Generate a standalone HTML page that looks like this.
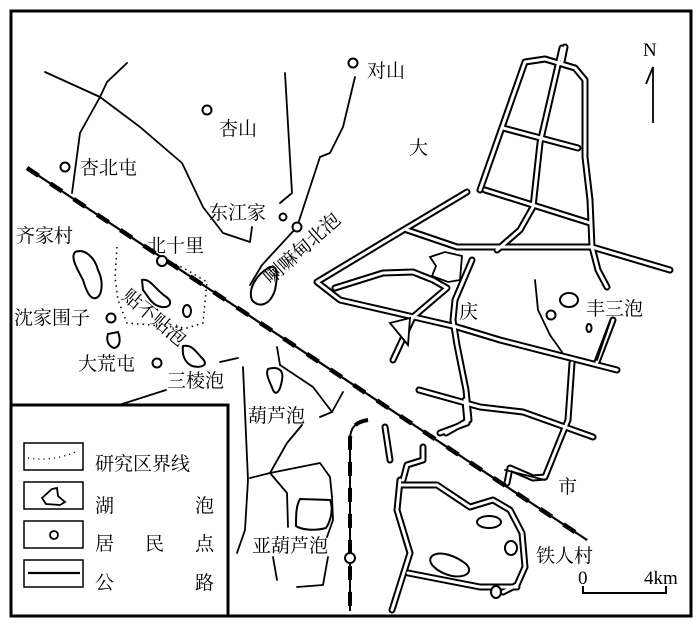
<!DOCTYPE html>
<html><head><meta charset="utf-8"><style>
html,body{margin:0;padding:0;background:#fff;}
svg{display:block;}
text{font-family:"Liberation Serif","Noto Serif CJK SC","Noto Sans CJK SC",serif;font-size:19px;fill:#000;}
.r1 path{fill:none;stroke:#000;stroke-width:7;stroke-linejoin:round;stroke-linecap:round;}
.r2 path{fill:none;stroke:#fff;stroke-width:3;stroke-linejoin:round;stroke-linecap:round;}
.s{fill:none;stroke:#000;stroke-width:1.8;stroke-linejoin:round;stroke-linecap:round;}
.lk{fill:#fff;stroke:#000;stroke-width:2;}
</style></head><body>
<svg width="700" height="628" viewBox="0 0 700 628" xmlns="http://www.w3.org/2000/svg">
<rect x="0" y="0" width="700" height="628" fill="#fff"/>
<rect x="11" y="11" width="680" height="605" fill="none" stroke="#000" stroke-width="3"/>

<path class="s" d="M45,72 L100,97 L140,127 L182,163 L203,207 L223,233 L250,242 L252,227"/>
<path class="s" d="M127,63 L107,82 L100,97 L80,133 L72,193"/>
<path class="s" d="M285,73 L292,193 L280,203"/>
<path class="s" d="M355,77 L343,127 L330,153 L320,157 L297,227 L262,265 L250,285"/>

<g class="r1">
<path d="M565,47 L562,62"/><path d="M480,190 L525,62 L545,59 L575,68 L585,80 L585,157 L590,200 L592,247 L598,270 L607,287"/><path d="M562,48 L540,143 L533,207 L520,230 L497,250"/><path d="M503,128 L578,148"/><path d="M485,190 L590,223"/><path d="M467,192 L400,232 L317,282 L340,300 L457,327 L500,340 L617,370"/><path d="M407,230 L457,247 L592,247 L670,270"/><path d="M335,288 L383,273 L413,272 L433,280 L447,288 L413,317 L393,360"/><path d="M472,260 L455,300 L453,320 L457,345 L466,390 L469,420 L446,433"/><path d="M419,390 L480,407 L523,412 L593,437"/><path d="M572,363 L568,420 L545,477 L533,478 L510,468 L507,483"/><path d="M597,362 L613,320"/><path d="M423,447 L423,460 L407,465 L403,480"/><path d="M440,433 L467,423 L465,400"/><path d="M402,485 L437,485 L470,507 L493,500 L510,510 L522,533 L525,567 L517,585 L503,592"/><path d="M400,480 L397,510 L410,553 L392,610"/><path d="M408,573 L480,587 L517,587"/><path d="M385,427 L390,460"/>
</g>
<g class="r2">
<path d="M565,47 L562,62"/><path d="M480,190 L525,62 L545,59 L575,68 L585,80 L585,157 L590,200 L592,247 L598,270 L607,287"/><path d="M562,48 L540,143 L533,207 L520,230 L497,250"/><path d="M503,128 L578,148"/><path d="M485,190 L590,223"/><path d="M467,192 L400,232 L317,282 L340,300 L457,327 L500,340 L617,370"/><path d="M407,230 L457,247 L592,247 L670,270"/><path d="M335,288 L383,273 L413,272 L433,280 L447,288 L413,317 L393,360"/><path d="M472,260 L455,300 L453,320 L457,345 L466,390 L469,420 L446,433"/><path d="M419,390 L480,407 L523,412 L593,437"/><path d="M572,363 L568,420 L545,477 L533,478 L510,468 L507,483"/><path d="M597,362 L613,320"/><path d="M423,447 L423,460 L407,465 L403,480"/><path d="M440,433 L467,423 L465,400"/><path d="M402,485 L437,485 L470,507 L493,500 L510,510 L522,533 L525,567 L517,585 L503,592"/><path d="M400,480 L397,510 L410,553 L392,610"/><path d="M408,573 L480,587 L517,587"/><path d="M385,427 L390,460"/>
</g>
<path d="M430,257 L445,252 L462,256 L460,280 L448,282 L432,276 L436,266 Z" fill="#fff" stroke="#000" stroke-width="1.8"/>
<path d="M390,323 L410,318 L408,345 Z" fill="#fff" stroke="#000" stroke-width="1.8"/>
<path d="M505,470 L545,480" class="s"/>

<path class="s" d="M535,280 L538,310 L550,335 L562,352"/>
<path class="s" d="M610,322 L597,360"/>

<path class="s" d="M243,367 L248,480 L245,530 L237,553"/>
<path class="s" d="M277,347 L280,365 L313,387 L332,412 L320,417"/>
<path class="s" d="M343,392 L332,412"/>
<path class="s" d="M302,425 L287,443 L270,473 L250,478"/>
<path class="s" d="M270,473 L320,463 L330,477 L332,497 L333,520 L327,537"/>
<path class="s" d="M270,473 L287,493 L288,527"/>
<path class="s" d="M273,557 L277,580"/><path class="s" d="M297,587 L323,585 L328,557"/>
<path class="s" d="M119,405 L166,390"/><path class="s" d="M220,362 L238,358"/>

<path class="lk" d="M75,252 C85,248 95,258 98,270 C104,282 102,296 96,298 C90,300 86,290 83,280 C78,270 70,258 75,252 Z"/>
<path class="lk" d="M142,280 C150,278 156,290 165,296 C174,302 170,308 162,307 C152,306 148,296 143,290 Z"/>
<ellipse class="lk" cx="187" cy="311" rx="4" ry="6"/>
<path class="lk" d="M108,334 L118,332 C121,340 120,347 114,348 C108,346 106,340 108,334 Z"/>
<path class="lk" d="M183,346 C192,344 196,352 202,358 C210,366 200,368 192,366 C184,362 182,354 183,346 Z"/>
<path class="lk" d="M270,267 C278,265 278,275 275,290 C270,306 258,308 252,300 C248,290 255,275 270,267 Z"/>
<path class="lk" d="M268,369 C278,366 284,370 282,380 C280,392 276,396 273,390 C270,382 265,374 268,369 Z"/>
<path class="lk" d="M300,499 L330,500 C334,510 330,522 326,528 C315,531 302,530 296,526 C296,515 296,506 300,499 Z"/>
<ellipse class="lk" cx="569" cy="300" rx="9" ry="7"/>
<ellipse class="lk" cx="589" cy="328" rx="2.5" ry="4"/>
<ellipse class="lk" cx="489" cy="522" rx="12" ry="6"/>
<path class="lk" d="M432,556 C440,550 456,556 466,564 C474,572 466,578 452,576 C436,572 426,562 432,556 Z"/>
<ellipse class="lk" cx="511" cy="548" rx="6" ry="7"/>
<ellipse class="lk" cx="496" cy="592" rx="5" ry="6"/>

<path d="M117,247 L115,277 L118,300 L127,323 L187,328 L203,323 L207,282 L187,270 L167,260" fill="none" stroke="#000" stroke-width="1.5" stroke-dasharray="1.5,4"/>

<line x1="27" y1="168" x2="587" y2="540" stroke="#000" stroke-width="2.2"/>
<line x1="27" y1="168" x2="587" y2="540" stroke="#000" stroke-width="4.5" stroke-dasharray="14,14"/>
<path d="M368,420 C355,422 350,428 350,440 L350,611" fill="none" stroke="#000" stroke-width="2"/>
<path d="M368,420 C355,422 350,428 350,440 L350,611" fill="none" stroke="#000" stroke-width="4" stroke-dasharray="14,12"/>

<g fill="#fff" stroke="#000" stroke-width="2">
<circle cx="353" cy="63" r="4.5"/><circle cx="207" cy="110" r="4.5"/><circle cx="65" cy="167" r="4.5"/>
<circle cx="283" cy="217" r="3.5"/><circle cx="297" cy="227" r="4.5"/><circle cx="162" cy="261" r="5"/>
<circle cx="111" cy="318" r="4.5"/><circle cx="157" cy="363" r="4.5"/><circle cx="551" cy="315" r="4.5"/>
<circle cx="350" cy="558" r="5"/>
</g>

<text x="367" y="77">对山</text>
<text x="219" y="135">杏山</text>
<text x="80" y="174">杏北屯</text>
<text x="409" y="154" font-size="21">大</text>
<text x="209" y="219">东江家</text>
<text x="16" y="242">齐家村</text>
<text x="147" y="252">北十里</text>
<text x="14" y="324">沈家围子</text>
<text x="78" y="370">大荒屯</text>
<text x="167" y="387">三棱泡</text>
<text x="248" y="422">葫芦泡</text>
<text x="252" y="552">亚葫芦泡</text>
<text x="459" y="318" font-size="21">庆</text>
<text x="586" y="315">丰三泡</text>
<text x="558" y="493" font-size="21">市</text>
<text x="536" y="562">铁人村</text>
<text transform="translate(121,298) rotate(40)">贴不贴泡</text>
<text transform="translate(271,285) rotate(-42)">喇嘛甸北泡</text>

<text x="643" y="56" font-size="15">N</text>
<path d="M653,67 L653,123" stroke="#000" stroke-width="1.8"/>
<path d="M653,67 L646,84" stroke="#000" stroke-width="1.8"/>

<text x="578" y="584" font-size="17">0</text>
<text x="644" y="584" font-size="15">4km</text>
<path d="M583,586 L583,593 L666,593 L666,586" fill="none" stroke="#000" stroke-width="2"/>

<rect x="11" y="405" width="217" height="211" fill="#fff" stroke="#000" stroke-width="3"/>
<g fill="none" stroke="#000" stroke-width="1.5">
<rect x="24" y="443" width="59" height="27"/>
<rect x="24" y="482" width="59" height="27"/>
<rect x="24" y="521" width="59" height="27"/>
<rect x="24" y="560" width="59" height="27"/>
</g>
<path d="M28,458 Q53,462 78,451" fill="none" stroke="#000" stroke-width="1.2" stroke-dasharray="1.2,4"/>
<path d="M52,489 L57,488 L58,496 L65,502 L60,505 L46,504 L42,498 Z" fill="#fff" stroke="#000" stroke-width="1.8"/>
<circle cx="54" cy="535" r="4" fill="#fff" stroke="#000" stroke-width="1.8"/>
<line x1="28" y1="573" x2="80" y2="573" stroke="#000" stroke-width="2.2"/>
<text x="95" y="470">研究区界线</text>
<text x="95" y="512">湖</text><text x="195" y="512">泡</text>
<text x="95" y="550">居</text><text x="145" y="550">民</text><text x="195" y="550">点</text>
<text x="95" y="589">公</text><text x="195" y="589">路</text>
</svg>
</body></html>
